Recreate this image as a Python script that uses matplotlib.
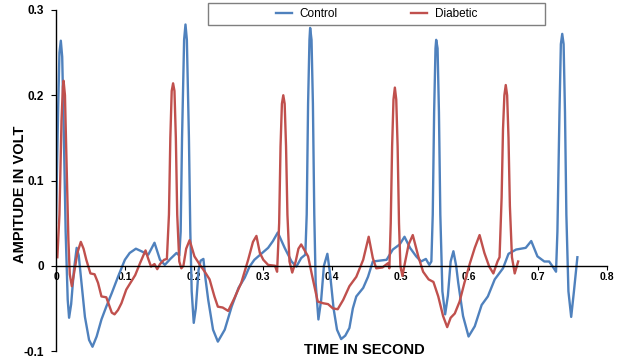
import matplotlib
matplotlib.use("Agg")
import matplotlib.pyplot as plt
from matplotlib.patches import Rectangle

# =========================
# DATA
# =========================

control_t = [
    0.000, 0.003, 0.005, 0.007, 0.009, 0.011, 0.014, 0.017, 0.019, 0.022,
    0.026, 0.030, 0.033, 0.037, 0.042, 0.048, 0.053, 0.059, 0.066, 0.073,
    0.081, 0.090, 0.100, 0.107, 0.116, 0.124, 0.134, 0.143, 0.151, 0.158,
    0.166, 0.175, 0.179, 0.181, 0.183, 0.186, 0.188, 0.190, 0.193, 0.195,
    0.197, 0.200, 0.203, 0.207, 0.210, 0.214, 0.217, 0.221, 0.228, 0.235,
    0.245, 0.255, 0.265, 0.274, 0.281, 0.288, 0.298, 0.308, 0.315, 0.322,
    0.327, 0.332, 0.342, 0.349, 0.356, 0.362, 0.364, 0.366, 0.368, 0.369,
    0.371, 0.373, 0.375, 0.377, 0.381, 0.385, 0.389, 0.394, 0.398, 0.403,
    0.408, 0.414, 0.420, 0.426, 0.431, 0.436, 0.446, 0.453, 0.460, 0.470,
    0.480, 0.489, 0.499, 0.506, 0.514, 0.523, 0.530, 0.537, 0.542, 0.545,
    0.547, 0.549, 0.551, 0.552, 0.554, 0.556, 0.558, 0.561, 0.565, 0.569,
    0.573, 0.577, 0.581, 0.584, 0.591, 0.599, 0.608, 0.618, 0.627, 0.637,
    0.649, 0.657, 0.668, 0.682, 0.690, 0.699, 0.709, 0.716, 0.722, 0.726,
    0.728, 0.731, 0.733, 0.735, 0.737, 0.739, 0.741, 0.744, 0.748, 0.752,
    0.757,
]
control_v = [
    0.050, 0.180, 0.250, 0.264, 0.245, 0.170, 0.040, -0.040, -0.061, -0.045,
    -0.005, 0.021, 0.012, -0.020, -0.060, -0.087, -0.095, -0.083, -0.063, -0.048,
    -0.032, -0.013, 0.007, 0.015, 0.020, 0.017, 0.013, 0.027, 0.007, 0.001,
    0.008, 0.015, 0.012, 0.040, 0.150, 0.265, 0.283, 0.265, 0.150, 0.040,
    -0.030, -0.067, -0.050, -0.005, 0.006, 0.008, -0.015, -0.040, -0.075, -0.089,
    -0.075, -0.048, -0.026, -0.014, -0.001, 0.007, 0.014, 0.021, 0.029, 0.039,
    0.030, 0.021, 0.005, -0.001, 0.009, 0.013, 0.060, 0.190, 0.265, 0.279,
    0.265, 0.190, 0.060, -0.020, -0.063, -0.040, 0.000, 0.014, -0.010, -0.050,
    -0.075, -0.086, -0.082, -0.073, -0.050, -0.036, -0.026, -0.013, 0.005, 0.006,
    0.007, 0.019, 0.025, 0.034, 0.021, 0.011, 0.005, 0.008, 0.001, 0.005,
    0.060, 0.180, 0.255, 0.265, 0.255, 0.180, 0.060, -0.030, -0.057, -0.035,
    0.005, 0.017, 0.000, -0.020, -0.059, -0.083, -0.071, -0.046, -0.036, -0.016,
    -0.003, 0.014, 0.019, 0.021, 0.029, 0.011, 0.005, 0.005, -0.002, -0.007,
    0.040, 0.180, 0.260, 0.272, 0.260, 0.180, 0.060, -0.030, -0.060, -0.030,
    0.010,
]

diabetic_t = [
    0.002, 0.005, 0.008, 0.010, 0.011, 0.013, 0.015, 0.018, 0.020, 0.023,
    0.027, 0.031, 0.036, 0.040, 0.044, 0.050, 0.056, 0.061, 0.066, 0.073,
    0.081, 0.085, 0.090, 0.095, 0.102, 0.115, 0.122, 0.130, 0.134, 0.138,
    0.143, 0.147, 0.151, 0.157, 0.161, 0.164, 0.166, 0.168, 0.170, 0.172,
    0.174, 0.176, 0.179, 0.182, 0.185, 0.189, 0.194, 0.201, 0.209, 0.216,
    0.223, 0.230, 0.235, 0.242, 0.250, 0.259, 0.269, 0.279, 0.286, 0.291,
    0.296, 0.301, 0.308, 0.318, 0.321, 0.324, 0.326, 0.328, 0.330, 0.332,
    0.334, 0.336, 0.339, 0.343, 0.348, 0.352, 0.356, 0.366, 0.373, 0.380,
    0.388, 0.395, 0.402, 0.409, 0.417, 0.426, 0.436, 0.446, 0.454, 0.460,
    0.465, 0.474, 0.482, 0.484, 0.486, 0.488, 0.490, 0.492, 0.494, 0.496,
    0.498, 0.500, 0.503, 0.507, 0.512, 0.518, 0.526, 0.533, 0.541, 0.548,
    0.555, 0.562, 0.568, 0.573, 0.579, 0.586, 0.593, 0.601, 0.608, 0.615,
    0.622, 0.629, 0.635, 0.641, 0.644, 0.647, 0.649, 0.651, 0.653, 0.655,
    0.657, 0.659, 0.662, 0.666, 0.671,
]
diabetic_v = [
    0.010, 0.060, 0.170, 0.210, 0.217, 0.200, 0.130, 0.030, -0.010, -0.024,
    -0.005, 0.015, 0.028, 0.020, 0.007, -0.009, -0.010, -0.020, -0.036, -0.037,
    -0.055, -0.057, -0.052, -0.044, -0.028, -0.011, 0.003, 0.018, 0.008, -0.001,
    0.002, -0.004, 0.002, 0.007, 0.008, 0.060, 0.150, 0.205, 0.214, 0.205,
    0.150, 0.060, 0.005, -0.003, 0.000, 0.020, 0.030, 0.011, 0.001, -0.007,
    -0.016, -0.036, -0.048, -0.049, -0.053, -0.038, -0.020, 0.007, 0.028, 0.035,
    0.015, 0.007, 0.001, 0.000, -0.007, 0.050, 0.140, 0.190, 0.200, 0.190,
    0.140, 0.060, 0.005, -0.008, 0.005, 0.020, 0.025, 0.011, -0.016, -0.042,
    -0.044, -0.045, -0.050, -0.051, -0.040, -0.024, -0.013, 0.007, 0.034, 0.009,
    -0.003, -0.002, 0.003, -0.003, 0.050, 0.140, 0.195, 0.209, 0.195, 0.140,
    0.050, 0.000, -0.012, 0.005, 0.025, 0.036, 0.011, -0.007, -0.016, -0.019,
    -0.036, -0.059, -0.072, -0.061, -0.056, -0.042, -0.020, 0.003, 0.021, 0.036,
    0.015, -0.001, -0.009, 0.005, 0.010, 0.080, 0.160, 0.200, 0.212, 0.200,
    0.150, 0.070, 0.010, -0.009, 0.005,
]

x_ticks = [0, 0.1, 0.2, 0.3, 0.4, 0.5, 0.6, 0.7, 0.8]
x_tick_labels = ["0", "0.1", "0.2", "0.3", "0.4", "0.5", "0.6", "0.7", "0.8"]
y_ticks = [-0.1, 0, 0.1, 0.2, 0.3]
y_tick_labels = ["-0.1", "0", "0.1", "0.2", "0.3"]

# =========================
# FIGURE
# =========================

plt.rcParams["font.family"] = ["Liberation Sans", "DejaVu Sans"]

fig = plt.figure(figsize=(6.23, 3.62), dpi=100)
ax = fig.add_axes([56 / 623, 11 / 362, 551 / 623, 341 / 362])

ax.plot(control_t, control_v, color="#4F81BD", lw=1.7, label="Control",
        solid_joinstyle="round")
ax.plot(diabetic_t, diabetic_v, color="#C0504D", lw=1.7, label="Diabetic",
        solid_joinstyle="round")

ax.set_xlim(0, 0.8)
ax.set_ylim(-0.1, 0.3)

ax.spines["top"].set_visible(False)
ax.spines["right"].set_visible(False)
ax.spines["bottom"].set_position(("data", 0))
ax.spines["bottom"].set_linewidth(1.0)
ax.spines["left"].set_linewidth(1.0)

ax.set_xticks(x_ticks)
ax.set_xticklabels(x_tick_labels, fontsize=7.5, fontweight="bold")
ax.set_yticks(y_ticks)
ax.set_yticklabels(y_tick_labels, fontsize=8.5, fontweight="bold")
ax.tick_params(axis="x", direction="out", length=3, pad=1.5)
ax.tick_params(axis="y", direction="out", length=3.5, pad=5)

ax.set_xlabel("TIME IN SECOND", fontsize=10.5, fontweight="bold")
ax.xaxis.set_label_coords(0.559, 0.003)
ax.xaxis.label.set_va("center")

ax.set_ylabel("AMPITUDE IN VOLT", fontsize=10.5, fontweight="bold")
ax.yaxis.set_label_coords(-0.065, 0.46)
ax.yaxis.label.set_va("center")

# legend box drawn separately so it can be wider than the entries
box = Rectangle((0.2759, 0.956), 0.6116, 0.0645, transform=ax.transAxes,
                facecolor="white", edgecolor="#7f7f7f", lw=1.0,
                clip_on=False, zorder=5)
ax.add_patch(box)
leg = ax.legend(loc="center", bbox_to_anchor=(0.582, 0.988), ncol=2,
                frameon=False, fontsize=8.5, handlelength=1.3,
                handletextpad=0.7, columnspacing=6.2)
leg.set_zorder(6)

fig.savefig("out.png", dpi=100)
